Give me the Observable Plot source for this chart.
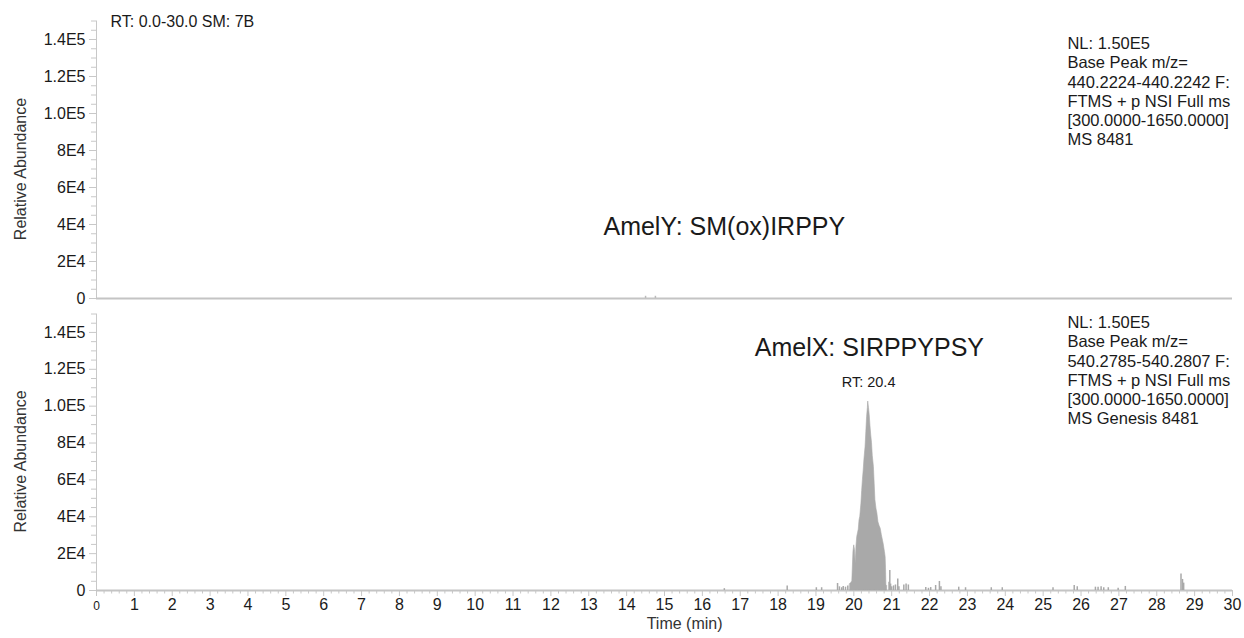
<!DOCTYPE html>
<html><head><meta charset="utf-8">
<script src="https://cdn.jsdelivr.net/npm/d3@7"></script>
<script src="https://cdn.jsdelivr.net/npm/@observablehq/plot@0.6"></script>
<style>
html,body{margin:0;padding:0;background:#fff;}
#wrap{position:relative;width:1244px;height:638px;font-family:"Liberation Sans",Arial,sans-serif;}
#top{position:absolute;left:0;top:0;}
#bot{position:absolute;left:0;top:305px;}
svg{overflow:visible;}
</style></head><body>
<div id="wrap"><div id="top"></div><div id="bot"></div></div>
<script>
// ---- data ----
const yTicks = [0, 20000, 40000, 60000, 80000, 100000, 120000, 140000];
const yTickLabels = ["0", "2E4", "4E4", "6E4", "8E4", "1.0E5", "1.2E5", "1.4E5"];
const yMinor = [5000,10000,15000,25000,30000,35000,45000,50000,55000,65000,70000,75000,85000,90000,95000,105000,110000,115000,125000,130000,135000,145000,150000];
const xTicks = [1,2,3,4,5,6,7,8,9,10,11,12,13,14,15,16,17,18,19,20,21,22,23,24,25,26,27,28,29,30];
const xMinor = [];
for (let i = 0; i <= 150; i++) { if (i % 5 !== 0) xMinor.push(i / 5); }

// top trace (AmelY) – essentially baseline with two tiny blips
const topSpikeTimes = [14.50, 14.76];
const topSpikeValues = [1200, 1200];

// bottom trace (AmelX) main peak
const peakTimes  = [19.90, 19.93, 19.96, 19.99, 20.01, 20.03, 20.05, 20.07, 20.09, 20.11, 20.13, 20.15, 20.17, 20.20, 20.22, 20.24, 20.26, 20.28, 20.31, 20.33, 20.35, 20.37, 20.38, 20.40, 20.42, 20.44, 20.46, 20.48, 20.50, 20.53, 20.55, 20.57, 20.60, 20.62, 20.65, 20.68, 20.71, 20.74, 20.77, 20.79, 20.82, 20.84, 20.85, 20.86, 20.88];
const peakValues = [3500, 4000, 5000, 21000, 24500, 22000, 14500, 24000, 29000, 31000, 33000, 38000, 40000, 47000, 54000, 60000, 65000, 71000, 78000, 86000, 94000, 99000, 102500, 99000, 95000, 89000, 84000, 80000, 73000, 67000, 58000, 49000, 44000, 42000, 37000, 35000, 33500, 30000, 27000, 25000, 21000, 18000, 12000, 3000, 2500];

// bottom trace small spikes
const spikeTimes  = [16.58, 18.24, 19.01, 19.15, 19.57, 19.62, 19.68, 19.72, 19.78, 19.84, 20.93, 20.95, 20.97, 21.00, 21.05, 21.10, 21.16, 21.19, 21.32, 21.38, 21.44, 21.90, 21.97, 22.03, 22.16, 22.26, 22.30, 22.77, 22.95, 23.63, 23.92, 25.26, 25.82, 25.90, 26.38, 26.45, 26.53, 26.60, 26.72, 26.98, 27.17, 28.64, 28.68, 28.71];
const spikeValues = [1000, 2500, 1500, 1500, 3800, 2000, 1500, 2200, 1800, 2500, 4500, 10800, 3500, 2000, 2500, 3000, 6300, 2000, 3000, 3500, 3000, 1600, 1200, 1600, 2700, 4900, 2000, 1800, 1500, 1500, 1500, 1500, 2700, 2000, 1800, 1800, 2000, 1500, 1500, 1200, 2200, 9000, 6000, 4000];

const topInfo = ["NL: 1.50E5", "Base Peak m/z=", "440.2224-440.2242 F:", "FTMS + p NSI Full ms", "[300.0000-1650.0000]", "MS 8481"];
const botInfo = ["NL: 1.50E5", "Base Peak m/z=", "540.2785-540.2807 F:", "FTMS + p NSI Full ms", "[300.0000-1650.0000]", "MS Genesis 8481"];

// ---- build tables ----
const peak = peakTimes.map((t, i) => ({t, v: peakValues[i]}));
const spikes = spikeTimes.map((t, i) => ({t, v: spikeValues[i]}));
const topSpikes = topSpikeTimes.map((t, i) => ({t, v: topSpikeValues[i]}));
const labelOf = new Map(yTicks.map((d, i) => [d, yTickLabels[i]]));

const axisGray = "#c8c8c8";
const fillGray = "#a9a9a9";
const ink = "#1a1a1a";
const font = "Liberation Sans, Arial, sans-serif";

function yAxisMarks() {
  return [
    Plot.ruleX([0], {stroke: axisGray, strokeWidth: 1}),
    Plot.axisY({ticks: yMinor, tickSize: 5, tickFormat: () => "", stroke: axisGray, label: null}),
    Plot.axisY({ticks: yTicks, tickSize: 7, tickPadding: 4, tickFormat: d => labelOf.get(d), stroke: axisGray, fill: ink, fontSize: 16, label: null}),
    Plot.text(["Relative Abundance"], {y: () => 70000, frameAnchor: "left", textAnchor: "middle", dx: -76, rotate: -90, fontSize: 16, fill: "#333"})
  ];
}

const topPlot = Plot.plot({
  width: 1244, height: 305,
  marginLeft: 96, marginRight: 12, marginTop: 20.5, marginBottom: 7,
  style: {fontFamily: font, fontSize: "16px", background: "transparent", overflow: "visible"},
  x: {domain: [0, 30], axis: null},
  y: {domain: [0, 150000]},
  marks: [
    ...yAxisMarks(),
    Plot.ruleY([0], {stroke: "#c4c4c4", strokeWidth: 2}),
    Plot.ruleX(topSpikes, {x: "t", y1: 0, y2: "v", stroke: "#bbbbbb", strokeWidth: 1.5}),
    Plot.text(["RT: 0.0-30.0 SM: 7B"], {x: () => 0.37, y: () => 149700, textAnchor: "start", fontSize: 16, fill: ink, clip: false}),
    Plot.text(["AmelY: SM(ox)IRPPY"], {x: () => 16.58, y: () => 38900, fontSize: 25, fill: ink}),
    Plot.text([topInfo.join("\n")], {x: () => 25.64, y: () => 112160, textAnchor: "start", lineAnchor: "middle", lineHeight: 1.16, fontSize: 16.5, fill: ink})
  ]
});
document.getElementById("top").append(topPlot);

const botPlot = Plot.plot({
  width: 1244, height: 333,
  marginLeft: 96, marginRight: 12, marginTop: 8.5, marginBottom: 48,
  style: {fontFamily: font, fontSize: "16px", background: "transparent", overflow: "visible"},
  x: {domain: [0, 30]},
  y: {domain: [0, 150000]},
  marks: [
    ...yAxisMarks(),
    Plot.axisX({ticks: xMinor, tickSize: 3.5, tickFormat: () => "", stroke: axisGray, label: null}),
    Plot.axisX({ticks: xTicks, tickSize: 6, tickPadding: 2, stroke: axisGray, fill: ink, fontSize: 16, label: null}),
    Plot.axisX({ticks: [0], tickSize: 6, tickPadding: 5, stroke: axisGray, fill: ink, fontSize: 12, label: null}),
    Plot.ruleY([0], {stroke: "#c4c4c4", strokeWidth: 2}),
    Plot.ruleX(spikes, {x: "t", y1: 0, y2: "v", stroke: fillGray, strokeWidth: 1.5}),
    Plot.areaY(peak, {x: "t", y: "v", fill: fillGray, stroke: fillGray, strokeWidth: 0.6}),
    Plot.text(["Time (min)"], {x: () => 15.53, frameAnchor: "bottom", dy: 38, fontSize: 16, fill: "#333"}),
    Plot.text(["AmelX: SIRPPYPSY"], {x: () => 20.41, y: () => 131800, fontSize: 25, fill: ink}),
    Plot.text(["RT: 20.4"], {x: () => 20.39, y: () => 112800, fontSize: 14.5, fill: ink}),
    Plot.text([botInfo.join("\n")], {x: () => 25.64, y: () => 119620, textAnchor: "start", lineAnchor: "middle", lineHeight: 1.16, fontSize: 16.5, fill: ink})
  ]
});
document.getElementById("bot").append(botPlot);
</script>
</body></html>
